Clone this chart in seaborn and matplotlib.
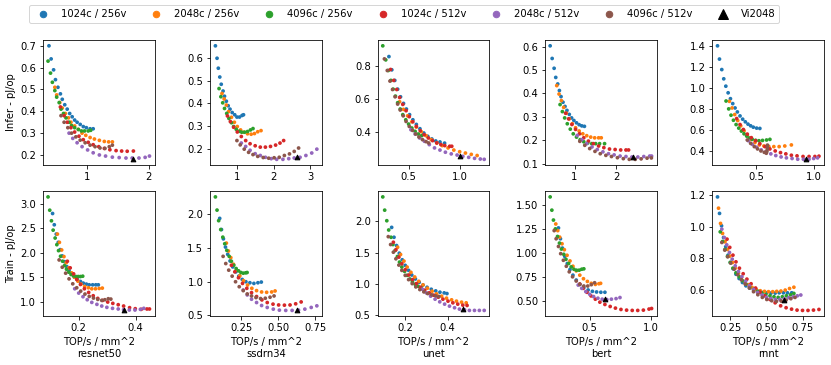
import matplotlib
matplotlib.use("Agg")
import matplotlib.pyplot as plt
from matplotlib.lines import Line2D
import seaborn as sns
import pandas as pd

configs = ["1024c / 256v", "2048c / 256v", "4096c / 256v",
           "1024c / 512v", "2048c / 512v", "4096c / 512v"]
benchmarks = ["resnet50", "ssdrn34", "unet", "bert", "rnnt"]

# (TOP/s/mm^2, pJ/op) points, one list per config
resnet50_infer = {
    "1024c / 256v": [(0.385, 0.70), (0.42, 0.64), (0.46, 0.59), (0.49, 0.545), (0.53, 0.51), (0.57, 0.48), (0.60, 0.455), (0.64, 0.43), (0.68, 0.41), (0.72, 0.39), (0.76, 0.375), (0.80, 0.36), (0.84, 0.35), (0.89, 0.34), (0.94, 0.33), (0.99, 0.325), (1.05, 0.32), (1.10, 0.32)],
    "2048c / 256v": [(0.48, 0.51), (0.51, 0.475), (0.56, 0.44), (0.60, 0.415), (0.65, 0.39), (0.70, 0.37), (0.74, 0.35), (0.80, 0.333), (0.86, 0.317), (0.92, 0.30), (0.98, 0.29), (1.05, 0.28), (1.12, 0.273), (1.20, 0.267), (1.28, 0.262), (1.35, 0.26), (1.41, 0.26)],
    "4096c / 256v": [(0.37, 0.63), (0.41, 0.575), (0.44, 0.533), (0.48, 0.495), (0.51, 0.465), (0.55, 0.44), (0.58, 0.41), (0.62, 0.39), (0.66, 0.37), (0.71, 0.35), (0.75, 0.335), (0.80, 0.325), (0.86, 0.317), (0.91, 0.31), (0.96, 0.31), (1.02, 0.31), (1.06, 0.313)],
    "1024c / 512v": [(0.57, 0.42), (0.63, 0.38), (0.68, 0.35), (0.74, 0.325), (0.80, 0.305), (0.87, 0.286), (0.94, 0.27), (1.02, 0.258), (1.10, 0.247), (1.19, 0.238), (1.28, 0.23), (1.37, 0.224), (1.47, 0.22), (1.56, 0.218), (1.65, 0.217), (1.75, 0.218)],
    "2048c / 512v": [(0.71, 0.30), (0.77, 0.276), (0.84, 0.256), (0.92, 0.238), (1.01, 0.223), (1.10, 0.21), (1.20, 0.20), (1.30, 0.195), (1.41, 0.19), (1.52, 0.188), (1.63, 0.186), (1.73, 0.186), (1.84, 0.186), (1.94, 0.189), (2.01, 0.195)],
    "4096c / 512v": [(0.58, 0.38), (0.63, 0.35), (0.69, 0.325), (0.75, 0.30), (0.82, 0.283), (0.89, 0.268), (0.97, 0.256), (1.05, 0.245), (1.13, 0.238), (1.21, 0.232), (1.29, 0.23), (1.36, 0.238), (1.41, 0.245)],
}
ssdrn34_infer = {
    "1024c / 256v": [(0.40, 0.655), (0.445, 0.60), (0.48, 0.556), (0.52, 0.517), (0.56, 0.485), (0.61, 0.455), (0.65, 0.432), (0.70, 0.41), (0.75, 0.39), (0.80, 0.375), (0.86, 0.36), (0.93, 0.35), (0.99, 0.34), (1.06, 0.34), (1.13, 0.347), (1.17, 0.35)],
    "2048c / 256v": [(0.58, 0.444), (0.64, 0.42), (0.70, 0.393), (0.76, 0.364), (0.84, 0.339), (0.92, 0.317), (1.00, 0.298), (1.09, 0.283), (1.18, 0.273), (1.28, 0.266), (1.38, 0.264), (1.47, 0.267), (1.56, 0.275), (1.65, 0.28)],
    "4096c / 256v": [(0.50, 0.466), (0.55, 0.43), (0.60, 0.403), (0.65, 0.378), (0.71, 0.356), (0.77, 0.334), (0.84, 0.315), (0.90, 0.298), (0.97, 0.286), (1.05, 0.277), (1.12, 0.273), (1.20, 0.273), (1.28, 0.276), (1.36, 0.283), (1.43, 0.289)],
    "1024c / 512v": [(0.73, 0.345), (0.81, 0.32), (0.90, 0.295), (1.00, 0.274), (1.11, 0.254), (1.23, 0.236), (1.35, 0.222), (1.49, 0.213), (1.63, 0.207), (1.77, 0.207), (1.91, 0.21), (2.05, 0.216), (2.17, 0.225), (2.27, 0.236)],
    "2048c / 512v": [(1.11, 0.225), (1.23, 0.21), (1.35, 0.193), (1.49, 0.178), (1.63, 0.17), (1.77, 0.162), (1.93, 0.156), (2.08, 0.153), (2.25, 0.153), (2.41, 0.156), (2.56, 0.159), (2.72, 0.162), (2.88, 0.17), (3.04, 0.181), (3.18, 0.198)],
    "4096c / 512v": [(0.99, 0.236), (1.08, 0.217), (1.19, 0.198), (1.31, 0.184), (1.43, 0.174), (1.56, 0.166), (1.71, 0.161), (1.86, 0.158), (2.01, 0.16), (2.15, 0.162), (2.29, 0.17), (2.43, 0.177), (2.56, 0.188), (2.68, 0.203)],
}
unet_infer = {
    "1024c / 256v": [(0.308, 0.858), (0.336, 0.778), (0.365, 0.714), (0.393, 0.661), (0.421, 0.615), (0.45, 0.575), (0.478, 0.541), (0.509, 0.507), (0.541, 0.476), (0.575, 0.448), (0.61, 0.422), (0.648, 0.396), (0.686, 0.376), (0.726, 0.36), (0.764, 0.348), (0.805, 0.342), (0.85, 0.335)],
    "2048c / 256v": [(0.412, 0.585), (0.45, 0.539), (0.49, 0.50), (0.531, 0.464), (0.575, 0.432), (0.623, 0.404), (0.67, 0.38), (0.72, 0.356), (0.774, 0.336), (0.827, 0.32), (0.884, 0.306), (0.94, 0.293), (0.997, 0.283), (1.053, 0.275), (1.11, 0.267), (1.167, 0.26)],
    "4096c / 256v": [(0.248, 0.923), (0.277, 0.838), (0.302, 0.774), (0.327, 0.714), (0.349, 0.661), (0.371, 0.619), (0.393, 0.579), (0.418, 0.541), (0.443, 0.507), (0.472, 0.476), (0.50, 0.45), (0.531, 0.426), (0.563, 0.406), (0.594, 0.39), (0.626, 0.38)],
    "1024c / 512v": [(0.324, 0.78), (0.355, 0.714), (0.384, 0.659), (0.412, 0.611), (0.443, 0.569), (0.475, 0.531), (0.506, 0.495), (0.541, 0.464), (0.575, 0.436), (0.613, 0.41), (0.651, 0.386), (0.692, 0.366), (0.733, 0.35), (0.774, 0.336), (0.814, 0.326), (0.852, 0.32), (0.90, 0.316), (0.92, 0.316)],
    "2048c / 512v": [(0.522, 0.416), (0.563, 0.39), (0.607, 0.366), (0.654, 0.346), (0.701, 0.326), (0.752, 0.306), (0.805, 0.293), (0.858, 0.28), (0.915, 0.27), (0.972, 0.263), (1.028, 0.255), (1.085, 0.249), (1.142, 0.243), (1.198, 0.239), (1.236, 0.237)],
    "4096c / 512v": [(0.264, 0.844), (0.292, 0.774), (0.318, 0.71), (0.343, 0.659), (0.368, 0.615), (0.393, 0.571), (0.418, 0.535), (0.447, 0.50), (0.475, 0.466), (0.506, 0.436), (0.538, 0.412), (0.569, 0.39), (0.60, 0.372), (0.635, 0.356), (0.67, 0.344), (0.695, 0.336)],
}
bert_infer = {
    "1024c / 256v": [(0.417, 0.603), (0.465, 0.549), (0.512, 0.507), (0.551, 0.468), (0.598, 0.44), (0.638, 0.412), (0.677, 0.386), (0.724, 0.362), (0.772, 0.344), (0.819, 0.327), (0.874, 0.31), (0.929, 0.295), (0.984, 0.284), (1.047, 0.274), (1.11, 0.266), (1.173, 0.261), (1.236, 0.259)],
    "2048c / 256v": [(0.575, 0.433), (0.63, 0.397), (0.685, 0.369), (0.74, 0.34), (0.803, 0.315), (0.874, 0.291), (0.945, 0.27), (1.024, 0.253), (1.11, 0.239), (1.197, 0.227), (1.291, 0.219), (1.386, 0.213), (1.48, 0.21), (1.575, 0.21), (1.638, 0.21)],
    "4096c / 256v": [(0.654, 0.352), (0.709, 0.322), (0.764, 0.295), (0.827, 0.27), (0.898, 0.247), (0.969, 0.227), (1.047, 0.213), (1.134, 0.202), (1.22, 0.193), (1.315, 0.188), (1.41, 0.185), (1.504, 0.185), (1.598, 0.185), (1.717, 0.185)],
    "1024c / 512v": [(0.787, 0.315), (0.858, 0.291), (0.937, 0.267), (1.024, 0.246), (1.118, 0.227), (1.22, 0.21), (1.331, 0.196), (1.449, 0.185), (1.575, 0.175), (1.70, 0.168), (1.835, 0.162), (1.969, 0.16), (2.102, 0.158), (2.228, 0.158), (2.29, 0.158)],
    "2048c / 512v": [(1.063, 0.22), (1.173, 0.202), (1.291, 0.185), (1.417, 0.171), (1.543, 0.16), (1.677, 0.15), (1.811, 0.142), (1.945, 0.137), (2.087, 0.132), (2.228, 0.13), (2.37, 0.128), (2.512, 0.128), (2.654, 0.13), (2.795, 0.132), (2.84, 0.132)],
    "4096c / 512v": [(1.126, 0.195), (1.244, 0.178), (1.362, 0.164), (1.488, 0.152), (1.614, 0.142), (1.748, 0.135), (1.882, 0.13), (2.024, 0.125), (2.165, 0.121), (2.307, 0.118), (2.449, 0.118), (2.59, 0.12), (2.732, 0.123), (2.835, 0.124)],
}
rnnt_infer = {
    "1024c / 256v": [(0.167, 1.40), (0.184, 1.274), (0.204, 1.174), (0.221, 1.086), (0.239, 1.016), (0.259, 0.953), (0.279, 0.897), (0.299, 0.85), (0.319, 0.809), (0.339, 0.771), (0.362, 0.733), (0.385, 0.702), (0.408, 0.677), (0.431, 0.655), (0.454, 0.639), (0.477, 0.626), (0.506, 0.617), (0.534, 0.614)],
    "2048c / 256v": [(0.27, 0.872), (0.293, 0.809), (0.316, 0.746), (0.342, 0.689), (0.368, 0.639), (0.397, 0.592), (0.425, 0.548), (0.457, 0.51), (0.491, 0.479), (0.529, 0.457), (0.569, 0.447), (0.612, 0.441), (0.655, 0.441), (0.701, 0.441), (0.75, 0.447), (0.807, 0.457)],
    "4096c / 256v": [(0.241, 0.875), (0.264, 0.80), (0.284, 0.74), (0.305, 0.692), (0.328, 0.651), (0.351, 0.617), (0.374, 0.589), (0.397, 0.563), (0.42, 0.541), (0.443, 0.523), (0.468, 0.51), (0.497, 0.501), (0.526, 0.497), (0.557, 0.50), (0.592, 0.504), (0.621, 0.51)],
    "1024c / 512v": [(0.333, 0.708), (0.362, 0.651), (0.391, 0.604), (0.425, 0.56), (0.46, 0.526), (0.497, 0.497), (0.534, 0.469), (0.578, 0.441), (0.621, 0.419), (0.667, 0.40), (0.713, 0.384), (0.759, 0.372), (0.807, 0.359), (0.856, 0.353), (0.908, 0.347), (0.96, 0.347), (1.011, 0.347), (1.046, 0.35)],
    "2048c / 512v": [(0.434, 0.497), (0.468, 0.463), (0.506, 0.435), (0.546, 0.41), (0.586, 0.391), (0.629, 0.372), (0.672, 0.356), (0.718, 0.343), (0.764, 0.334), (0.813, 0.328), (0.862, 0.321), (0.911, 0.321), (0.96, 0.321), (1.00, 0.328), (1.034, 0.334)],
    "4096c / 512v": [(0.425, 0.504), (0.454, 0.472), (0.486, 0.441), (0.514, 0.419), (0.543, 0.40), (0.572, 0.387), (0.59, 0.378), (0.595, 0.395), (0.598, 0.415), (0.60, 0.435), (0.60, 0.455)],
}

resnet50_train = {
    "1024c / 256v": [(0.108, 2.798), (0.114, 2.569), (0.121, 2.38), (0.128, 2.212), (0.135, 2.064), (0.142, 1.936), (0.15, 1.82), (0.158, 1.72), (0.166, 1.64), (0.176, 1.566), (0.185, 1.505), (0.195, 1.458), (0.206, 1.418), (0.216, 1.384), (0.227, 1.364), (0.237, 1.35), (0.249, 1.35), (0.26, 1.35), (0.269, 1.35)],
    "2048c / 256v": [(0.125, 2.38), (0.132, 2.212), (0.14, 2.057), (0.148, 1.923), (0.156, 1.80), (0.165, 1.694), (0.175, 1.593), (0.185, 1.505), (0.197, 1.424), (0.208, 1.364), (0.221, 1.316), (0.234, 1.29), (0.246, 1.269), (0.259, 1.269), (0.272, 1.276), (0.283, 1.283)],
    "4096c / 256v": [(0.092, 3.135), (0.098, 2.865), (0.104, 2.65), (0.11, 2.46), (0.117, 2.30), (0.123, 2.165), (0.129, 2.044), (0.136, 1.93), (0.143, 1.83), (0.15, 1.74), (0.157, 1.667), (0.165, 1.606), (0.173, 1.559), (0.182, 1.532), (0.19, 1.518), (0.198, 1.518), (0.206, 1.518), (0.214, 1.525)],
    "1024c / 512v": [(0.16, 1.828), (0.17, 1.694), (0.182, 1.572), (0.193, 1.458), (0.206, 1.357), (0.22, 1.27), (0.235, 1.195), (0.251, 1.128), (0.267, 1.074), (0.284, 1.034), (0.302, 1.0), (0.32, 0.973), (0.339, 0.946), (0.358, 0.919), (0.379, 0.886), (0.399, 0.865), (0.42, 0.852), (0.44, 0.859), (0.449, 0.859)],
    "2048c / 512v": [(0.186, 1.27), (0.2, 1.182), (0.215, 1.108), (0.23, 1.047), (0.246, 0.993), (0.264, 0.953), (0.281, 0.919), (0.299, 0.892), (0.319, 0.872), (0.339, 0.859), (0.358, 0.845), (0.378, 0.838), (0.398, 0.838), (0.417, 0.852), (0.429, 0.872)],
    "4096c / 512v": [(0.131, 1.855), (0.142, 1.707), (0.154, 1.586), (0.166, 1.471), (0.179, 1.37), (0.193, 1.29), (0.207, 1.222), (0.222, 1.162), (0.237, 1.114), (0.252, 1.081), (0.267, 1.054), (0.281, 1.034), (0.292, 1.047), (0.304, 1.067), (0.313, 1.06)],
}
ssdrn34_train = {
    "1024c / 256v": [(0.105, 1.941), (0.117, 1.775), (0.13, 1.637), (0.144, 1.515), (0.159, 1.407), (0.175, 1.309), (0.193, 1.22), (0.214, 1.147), (0.234, 1.083), (0.257, 1.034), (0.282, 1.0), (0.309, 0.985), (0.336, 0.975), (0.363, 0.985), (0.386, 0.995)],
    "2048c / 256v": [(0.15, 1.574), (0.164, 1.456), (0.18, 1.358), (0.198, 1.26), (0.218, 1.172), (0.241, 1.088), (0.266, 1.015), (0.293, 0.951), (0.322, 0.902), (0.354, 0.868), (0.388, 0.848), (0.422, 0.843), (0.456, 0.848), (0.479, 0.863)],
    "4096c / 256v": [(0.076, 2.26), (0.087, 2.064), (0.098, 1.907), (0.112, 1.775), (0.126, 1.662), (0.139, 1.564), (0.153, 1.466), (0.169, 1.377), (0.184, 1.304), (0.20, 1.245), (0.216, 1.196), (0.232, 1.162), (0.248, 1.137), (0.264, 1.127), (0.28, 1.132), (0.29, 1.137)],
    "1024c / 512v": [(0.184, 1.245), (0.207, 1.147), (0.232, 1.059), (0.259, 0.975), (0.288, 0.902), (0.32, 0.838), (0.354, 0.78), (0.39, 0.73), (0.426, 0.691), (0.465, 0.667), (0.503, 0.655), (0.542, 0.652), (0.58, 0.655), (0.618, 0.672), (0.655, 0.70)],
    "2048c / 512v": [(0.264, 0.877), (0.291, 0.804), (0.32, 0.74), (0.354, 0.691), (0.388, 0.647), (0.426, 0.618), (0.467, 0.593), (0.508, 0.578), (0.551, 0.574), (0.594, 0.574), (0.637, 0.578), (0.68, 0.593), (0.723, 0.618), (0.761, 0.642)],
    "4096c / 512v": [(0.128, 1.377), (0.146, 1.27), (0.166, 1.172), (0.189, 1.083), (0.212, 1.0), (0.237, 0.926), (0.264, 0.868), (0.291, 0.819), (0.32, 0.789), (0.35, 0.765), (0.381, 0.75), (0.413, 0.755), (0.445, 0.77), (0.472, 0.789)],
}
unet_train = {
    "1024c / 256v": [(0.136, 1.904), (0.147, 1.745), (0.159, 1.612), (0.172, 1.489), (0.186, 1.383), (0.2, 1.293), (0.216, 1.213), (0.231, 1.138), (0.248, 1.074), (0.266, 1.021), (0.284, 0.979), (0.303, 0.941), (0.323, 0.909), (0.344, 0.883), (0.364, 0.862), (0.384, 0.851), (0.397, 0.84)],
    "2048c / 256v": [(0.164, 1.585), (0.178, 1.468), (0.194, 1.362), (0.209, 1.266), (0.227, 1.181), (0.245, 1.106), (0.264, 1.037), (0.284, 0.979), (0.305, 0.926), (0.327, 0.878), (0.348, 0.835), (0.372, 0.798), (0.395, 0.766), (0.419, 0.739), (0.442, 0.718), (0.466, 0.702), (0.488, 0.691)],
    "4096c / 256v": [(0.094, 2.394), (0.103, 2.181), (0.113, 2.011), (0.122, 1.862), (0.133, 1.745), (0.142, 1.628), (0.152, 1.532), (0.163, 1.436), (0.173, 1.346), (0.184, 1.266), (0.197, 1.197), (0.209, 1.133), (0.222, 1.074), (0.234, 1.027), (0.247, 0.989), (0.261, 0.957), (0.275, 0.936)],
    "1024c / 512v": [(0.144, 1.665), (0.156, 1.543), (0.17, 1.426), (0.184, 1.319), (0.2, 1.223), (0.217, 1.138), (0.234, 1.064), (0.253, 1.0), (0.272, 0.941), (0.292, 0.894), (0.313, 0.851), (0.334, 0.814), (0.356, 0.782), (0.378, 0.75), (0.402, 0.718), (0.425, 0.691), (0.448, 0.67), (0.472, 0.654), (0.492, 0.649)],
    "2048c / 512v": [(0.281, 0.91), (0.3, 0.851), (0.32, 0.798), (0.341, 0.75), (0.363, 0.707), (0.386, 0.67), (0.409, 0.638), (0.433, 0.612), (0.456, 0.59), (0.48, 0.58), (0.503, 0.569), (0.527, 0.569), (0.55, 0.569), (0.573, 0.569)],
    "4096c / 512v": [(0.12, 1.755), (0.131, 1.628), (0.144, 1.505), (0.156, 1.399), (0.17, 1.298), (0.184, 1.213), (0.2, 1.133), (0.216, 1.064), (0.233, 1.0), (0.25, 0.947), (0.269, 0.904), (0.288, 0.867), (0.306, 0.84), (0.325, 0.819), (0.344, 0.803), (0.359, 0.793)],
}
bert_train = {
    "1024c / 256v": [(0.245, 1.263), (0.261, 1.15), (0.277, 1.053), (0.296, 0.967), (0.317, 0.892), (0.339, 0.83), (0.363, 0.771), (0.39, 0.72), (0.419, 0.675), (0.452, 0.641), (0.487, 0.617), (0.522, 0.603), (0.556, 0.596), (0.591, 0.593), (0.624, 0.593)],
    "2048c / 256v": [(0.223, 1.304), (0.239, 1.235), (0.255, 1.167), (0.274, 1.098), (0.293, 1.036), (0.315, 0.978), (0.339, 0.919), (0.363, 0.864), (0.39, 0.816), (0.419, 0.771), (0.449, 0.734), (0.481, 0.706), (0.513, 0.686), (0.546, 0.675), (0.575, 0.682), (0.589, 0.686)],
    "4096c / 256v": [(0.177, 1.586), (0.191, 1.448), (0.204, 1.345), (0.22, 1.253), (0.237, 1.174), (0.253, 1.105), (0.269, 1.043), (0.288, 0.988), (0.306, 0.936), (0.328, 0.892), (0.349, 0.857), (0.371, 0.833), (0.392, 0.823), (0.414, 0.823), (0.435, 0.833), (0.452, 0.837)],
    "1024c / 512v": [(0.419, 0.679), (0.446, 0.634), (0.478, 0.593), (0.511, 0.555), (0.546, 0.521), (0.583, 0.49), (0.624, 0.466), (0.667, 0.445), (0.71, 0.428), (0.755, 0.414), (0.801, 0.407), (0.847, 0.404), (0.892, 0.404), (0.938, 0.407), (0.984, 0.418), (1.005, 0.424)],
    "2048c / 512v": [(0.406, 0.668), (0.435, 0.634), (0.468, 0.60), (0.5, 0.572), (0.532, 0.548), (0.567, 0.531), (0.602, 0.521), (0.64, 0.517), (0.677, 0.521), (0.715, 0.527), (0.747, 0.538)],
    "4096c / 512v": [(0.21, 1.235), (0.226, 1.15), (0.245, 1.07), (0.263, 0.995), (0.285, 0.926), (0.309, 0.864), (0.333, 0.806), (0.36, 0.754), (0.39, 0.71), (0.419, 0.675), (0.452, 0.658), (0.484, 0.658), (0.513, 0.672), (0.54, 0.692)],
}
rnnt_train = {
    "1024c / 256v": [(0.16, 1.187), (0.174, 1.083), (0.188, 1.005), (0.202, 0.931), (0.217, 0.873), (0.233, 0.82), (0.25, 0.774), (0.269, 0.734), (0.288, 0.70), (0.31, 0.673), (0.333, 0.648), (0.357, 0.627), (0.383, 0.613), (0.412, 0.60), (0.44, 0.592), (0.469, 0.585), (0.50, 0.583), (0.531, 0.581), (0.56, 0.581), (0.588, 0.583), (0.617, 0.583), (0.645, 0.583), (0.675, 0.583)],
    "2048c / 256v": [(0.167, 1.116), (0.181, 1.02), (0.195, 0.957), (0.212, 0.904), (0.229, 0.856), (0.245, 0.814), (0.264, 0.774), (0.283, 0.738), (0.305, 0.707), (0.326, 0.68), (0.35, 0.655), (0.374, 0.634), (0.40, 0.617), (0.429, 0.604), (0.457, 0.596), (0.486, 0.592), (0.514, 0.59), (0.543, 0.59), (0.571, 0.592), (0.60, 0.594), (0.63, 0.60), (0.66, 0.61), (0.69, 0.618)],
    "4096c / 256v": [(0.179, 0.967), (0.195, 0.906), (0.212, 0.856), (0.229, 0.812), (0.248, 0.774), (0.267, 0.738), (0.288, 0.709), (0.31, 0.684), (0.333, 0.659), (0.357, 0.638), (0.383, 0.619), (0.41, 0.604), (0.438, 0.592), (0.467, 0.581), (0.495, 0.571), (0.524, 0.564), (0.552, 0.558), (0.581, 0.554), (0.61, 0.558), (0.638, 0.564), (0.667, 0.571), (0.69, 0.579)],
    "1024c / 512v": [(0.226, 0.921), (0.245, 0.869), (0.267, 0.82), (0.288, 0.778), (0.312, 0.738), (0.338, 0.703), (0.364, 0.669), (0.393, 0.64), (0.424, 0.613), (0.455, 0.587), (0.488, 0.564), (0.524, 0.541), (0.56, 0.52), (0.598, 0.501), (0.636, 0.489), (0.674, 0.48), (0.712, 0.474), (0.75, 0.472), (0.788, 0.472), (0.826, 0.474), (0.864, 0.478)],
    "2048c / 512v": [(0.19, 0.984), (0.207, 0.931), (0.224, 0.885), (0.243, 0.837), (0.262, 0.795), (0.283, 0.753), (0.305, 0.717), (0.329, 0.684), (0.355, 0.655), (0.381, 0.627), (0.41, 0.604), (0.438, 0.585), (0.469, 0.569), (0.50, 0.554), (0.531, 0.546), (0.562, 0.541), (0.593, 0.541), (0.624, 0.546), (0.655, 0.552), (0.686, 0.558), (0.714, 0.564), (0.738, 0.569)],
    "4096c / 512v": [(0.19, 0.90), (0.21, 0.852), (0.231, 0.81), (0.252, 0.77), (0.276, 0.732), (0.30, 0.697), (0.326, 0.665), (0.352, 0.638), (0.381, 0.613), (0.41, 0.59), (0.44, 0.571), (0.471, 0.554), (0.502, 0.541), (0.536, 0.533), (0.569, 0.529), (0.602, 0.531), (0.636, 0.537), (0.669, 0.546), (0.698, 0.554)],
}

# Vi2048 reference point per benchmark
vi2048_infer = [(1.75, 0.18), (2.64, 0.163), (1.003, 0.26), (2.386, 0.128), (0.937, 0.32)]
vi2048_train = [(0.36, 0.83), (0.626, 0.574), (0.472, 0.585), (0.624, 0.52), (0.619, 0.537)]

infer_panels = [resnet50_infer, ssdrn34_infer, unet_infer, bert_infer, rnnt_infer]
train_panels = [resnet50_train, ssdrn34_train, unet_train, bert_train, rnnt_train]


def to_frame(panel):
    rows = []
    for cfg in configs:
        for x, y in panel[cfg]:
            rows.append((cfg, x, y))
    return pd.DataFrame(rows, columns=["config", "tops", "pj"])


colors = sns.color_palette("tab10", len(configs))
palette = dict(zip(configs, colors))

fig, axes = plt.subplots(2, 5, figsize=(831 / 72, 365 / 72), dpi=72)
fig.subplots_adjust(left=0.0517, right=0.9916, top=0.890, bottom=0.134,
                    wspace=0.50, hspace=0.21)

for row, (panels, vis) in enumerate([(infer_panels, vi2048_infer),
                                     (train_panels, vi2048_train)]):
    for col in range(5):
        ax = axes[row, col]
        df = to_frame(panels[col])
        sns.scatterplot(data=df, x="tops", y="pj", hue="config",
                        hue_order=configs, palette=palette, s=14,
                        linewidth=0, legend=False, ax=ax)
        ax.scatter([vis[col][0]], [vis[col][1]], marker="^", color="black",
                   s=22, zorder=5)
        ax.set_xlabel("")
        ax.set_ylabel("")
        if row == 1:
            ax.set_xlabel(f"TOP/s / mm^2\n{benchmarks[col]}")

axes[0, 0].set_ylabel("Infer - pJ/op")
axes[1, 0].set_ylabel("Train - pJ/op")

handles = [Line2D([], [], marker="o", linestyle="", color=c, markersize=6.5)
           for c in colors]
handles.append(Line2D([], [], marker="^", linestyle="", color="black",
                      markersize=10))
labels = configs + ["Vi2048"]
fig.legend(handles, labels, loc="upper center", bbox_to_anchor=(0.486, 1.0),
           ncol=7, fontsize=10)

fig.savefig("out.png", dpi=72)
